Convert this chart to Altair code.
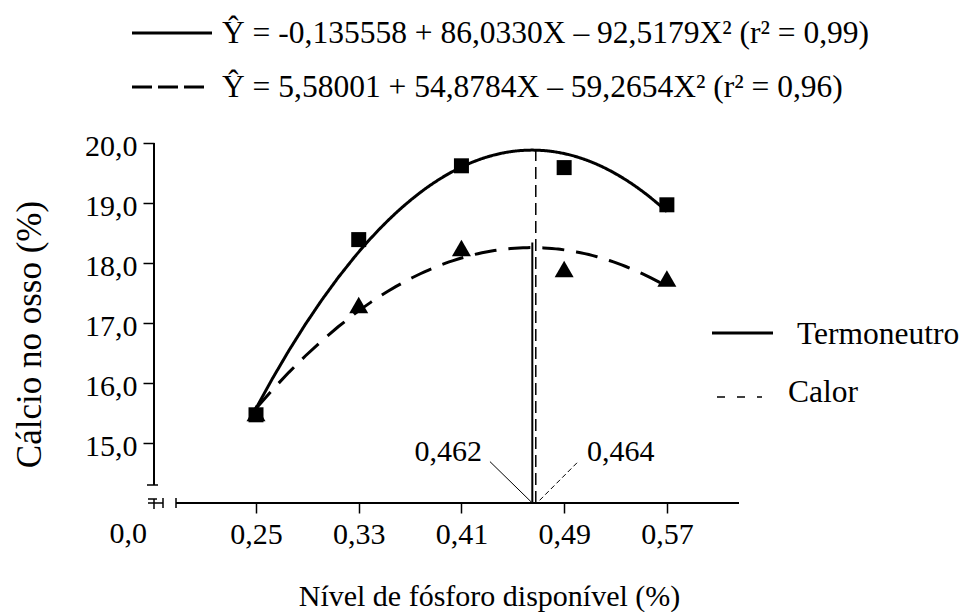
import altair as alt
import pandas as pd

# ---- data ----
niveis = [0.25, 0.33, 0.41, 0.49, 0.57]
termoneutro = [15.47, 18.39, 19.62, 19.59, 18.97]
calor = [15.50, 17.30, 18.25, 17.90, 17.74]
x_ticks = [0.25, 0.33, 0.41, 0.49, 0.57]
y_ticks = [15, 16, 17, 18, 19, 20]
eq_termo = "Ŷ = -0,135558 + 86,0330X – 92,5179X² (r² = 0,99)"
eq_calor = "Ŷ = 5,58001 + 54,8784X – 59,2654X² (r² = 0,96)"
serie_nomes = ["Termoneutro", "Calor"]
otimo_labels = ["0,462", "0,464"]
otimo_x = [0.4652, 0.4679]      # vertical lines (solid, dashed)
otimo_top = [18.34, 19.89]

FONT = "Liberation Serif"
FS = 30
FS_LEG = 31.5
X_MIN, X_MAX = 0.17056, 0.62617
Y_MIN, Y_MAX = 14.0, 20.0
W, H = 585, 360
PAD = {"left": 154, "top": 143, "right": 964 - 154 - W, "bottom": 612 - 143 - H}

pts = pd.DataFrame({
    "nivel": niveis * 2,
    "valor": termoneutro + calor,
    "serie": [serie_nomes[0]] * len(niveis) + [serie_nomes[1]] * len(niveis),
})

xscale = alt.Scale(domain=[X_MIN, X_MAX], nice=False, zero=False)
yscale = alt.Scale(domain=[Y_MIN, Y_MAX], nice=False, zero=False)

xaxis = alt.Axis(
    values=x_ticks, domain=False, grid=False, tickSize=10, tickWidth=1.5,
    tickColor="black", labelExpr="replace(format(datum.value, '.2f'), '.', ',')",
    labelFont=FONT, labelFontSize=FS, labelColor="black", labelPadding=6,
    labelFlush=False, labelOverlap=False,
    title="Nível de fósforo disponível (%)", titleFont=FONT, titleFontSize=FS,
    titleFontWeight="normal", titleColor="black", titleX=335, titleY=102,
    titleAlign="center", titleBaseline="alphabetic",
)
yaxis = alt.Axis(
    values=y_ticks, domain=False, grid=False, tickSize=11, tickWidth=1.5,
    tickColor="black", labelExpr="replace(format(datum.value, '.1f'), '.', ',')",
    labelFont=FONT, labelFontSize=FS, labelColor="black", labelPadding=6,
    labelOffset=3, labelBaseline="middle", labelOverlap=False, labelFlush=False,
    title="Cálcio no osso (%)", titleFont=FONT, titleFontSize=35,
    titleFontWeight="normal", titleColor="black", titleX=-114, titleY=191,
    titleAngle=270, titleAlign="center", titleBaseline="alphabetic",
)


def X(f):
    return alt.X(f, type="quantitative", scale=xscale, axis=xaxis)


def Y(f):
    return alt.Y(f, type="quantitative", scale=yscale, axis=yaxis)


# fitted curves (computed by Vega-Lite's regression transform)
def curve(serie, dash):
    return alt.Chart(pts).transform_filter(
        alt.datum.serie == serie
    ).transform_regression(
        "nivel", "valor", method="poly", order=2, extent=[0.25, 0.57]
    ).mark_line(color="black", strokeWidth=3, strokeDash=dash).encode(
        x=X("nivel"), y=Y("valor")
    )


def points(serie, shape, size):
    return alt.Chart(pts).transform_filter(alt.datum.serie == serie).mark_point(
        shape=shape, size=size, filled=True, color="black", opacity=1
    ).encode(x=X("nivel"), y=Y("valor"))


# segments in data coordinates
seg_axes = pd.DataFrame({
    "x": [X_MIN, 0.1877], "y": [14.3, Y_MIN],
    "x2": [X_MIN, X_MAX], "y2": [Y_MAX, Y_MIN],
})
seg_vsolid = pd.DataFrame({"x": [otimo_x[0]], "y": [Y_MIN], "x2": [otimo_x[0]], "y2": [otimo_top[0]]})
seg_vdash = pd.DataFrame({"x": [otimo_x[1]], "y": [Y_MIN], "x2": [otimo_x[1]], "y2": [otimo_top[1]]})
seg_lsolid = pd.DataFrame({"x": [0.4322], "y": [14.69], "x2": [otimo_x[0]], "y2": [Y_MIN]})
seg_ldash = pd.DataFrame({"x": [0.5], "y": [14.67], "x2": [0.4688], "y2": [Y_MIN]})


def segs(df, width, dash=None):
    kw = dict(color="black", strokeWidth=width)
    if dash is not None:
        kw["strokeDash"] = dash
    return alt.Chart(df).mark_rule(**kw).encode(
        x=X("x"), y=Y("y"), x2="x2:Q", y2="y2:Q"
    )


lab_df = pd.DataFrame({"x": [0.426, 0.5078], "y": [14.693, 14.693], "t": otimo_labels})
lab_l = alt.Chart(lab_df.iloc[[0]]).mark_text(
    font=FONT, fontSize=FS, align="right", baseline="alphabetic", color="black"
).encode(x=X("x"), y=Y("y"), text="t:N")
lab_r = alt.Chart(lab_df.iloc[[1]]).mark_text(
    font=FONT, fontSize=FS, align="left", baseline="alphabetic", color="black"
).encode(x=X("x"), y=Y("y"), text="t:N")

one = pd.DataFrame({"k": [0]})


def prule(x1, x2, y1, y2, width=1.5, dash=None):
    kw = dict(color="black", strokeWidth=width)
    if dash is not None:
        kw["strokeDash"] = dash
    return alt.Chart(one).mark_rule(**kw).encode(
        x=alt.value(x1), x2=alt.value(x2), y=alt.value(y1), y2=alt.value(y2)
    )


def ptext(txt, x, y, align="left", size=FS):
    return alt.Chart(one).mark_text(
        text=txt, font=FONT, fontSize=size, align=align, baseline="alphabetic", color="black"
    ).encode(x=alt.value(x), y=alt.value(y))


decor = [
    # axis break marks
    prule(-7, 4, 342, 342),
    prule(-6, 3, 356, 356),
    prule(0, 0, 356, 366),
    prule(-6, 9, 360, 360),
    prule(9, 9, 355, 365),
    prule(22, 22, 355, 365),
    ptext("0,0", -7, 400, align="right"),
    # top legend
    prule(-22, 58, -110, -110, width=3),
    ptext(eq_termo, 68, -100, size=FS_LEG),
    prule(-22, 56, -56, -56, width=3, dash=[20, 6]),
    ptext(eq_calor, 68, -46, size=FS_LEG),
    # right legend
    prule(558, 619, 190, 190, width=3),
    ptext(serie_nomes[0], 643, 201, size=FS_LEG),
    prule(563, 608, 254, 254, width=1.5, dash=[8, 12]),
    ptext(serie_nomes[1], 634, 259, size=FS_LEG),
]

chart = alt.layer(
    segs(seg_axes, 2),
    segs(seg_vsolid, 2),
    segs(seg_vdash, 1.5, [12, 6]),
    segs(seg_lsolid, 1),
    segs(seg_ldash, 1, [5, 3]),
    curve(serie_nomes[0], [1, 0]),
    curve(serie_nomes[1], [22, 12]),
    points(serie_nomes[0], "square", 225),
    points(serie_nomes[1], "triangle-up", 361),
    lab_l, lab_r,
    *decor,
).properties(
    width=W, height=H, padding=PAD, autosize=alt.AutoSizeParams(type="none"),
    background="white",
).configure(font=FONT).configure_view(stroke=None)

chart.save("out.html", embed_options={"renderer": "svg", "actions": False})
